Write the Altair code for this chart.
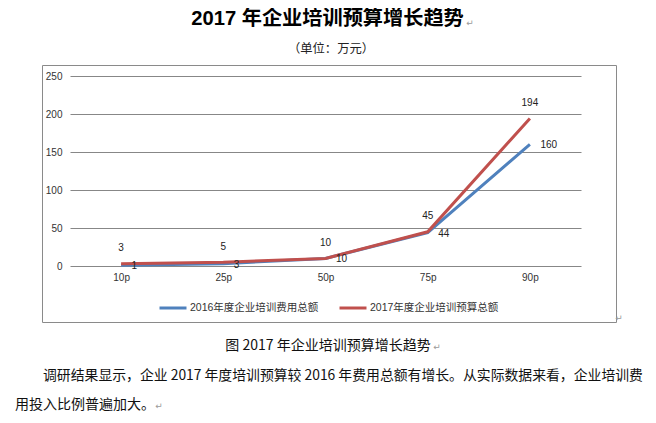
import altair as alt
import pandas as pd

categories = ["10p", "25p", "50p", "75p", "90p"]
values_2016 = [1, 3, 10, 44, 160]
values_2017 = [3, 5, 10, 45, 194]
series_names = ["2016年度企业培训费用总额", "2017年度企业培训预算总额"]
series_colors = ["#4F81BD", "#C0504D"]
y_ticks = [0, 50, 100, 150, 200, 250]

title_text = "2017 年企业培训预算增长趋势"
unit_text = "（单位：万元）"
caption_text = "图 2017 年企业培训预算增长趋势"
para_line1 = "调研结果显示，企业 2017 年度培训预算较 2016 年费用总额有增长。从实际数据来看，企业培训费"
para_line2 = "用投入比例普遍加大。"
mark_text = "↵"

FONT = "Liberation Sans, Noto Sans CJK SC"
CJK = "Noto Sans CJK SC, Liberation Sans"

df = pd.DataFrame({
    "cat": categories * 2,
    "value": values_2016 + values_2017,
    "series": [series_names[0]] * len(categories) + [series_names[1]] * len(categories),
})

W, H = 511, 190

x_enc = alt.X(
    "cat:N", sort=categories,
    scale=alt.Scale(type="point", padding=0.5),
    axis=alt.Axis(title=None, labelAngle=0, domain=False, ticks=False, grid=False,
                  labelPadding=6, labelFontSize=10, labelColor="#333333", labelFont=FONT),
)
y_enc = alt.Y(
    "value:Q",
    scale=alt.Scale(domain=[0, 250], nice=False),
    axis=alt.Axis(title=None, values=y_ticks, domain=False, ticks=False, grid=True,
                  gridColor="#878787", gridWidth=1, labelPadding=8, labelFontSize=10,
                  labelColor="#333333", labelFont=FONT),
)
color_enc = alt.Color(
    "series:N",
    scale=alt.Scale(domain=series_names, range=series_colors),
    legend=alt.Legend(title=None, orient="none", legendX=88, legendY=217,
                      direction="horizontal", symbolType="stroke", symbolStrokeWidth=3,
                      symbolSize=729, labelFontSize=10.5, labelFont=FONT,
                      labelColor="#333333", columnPadding=14, labelOffset=2,
                      labelLimit=400),
)

base = alt.Chart(df)

box = alt.Chart(pd.DataFrame({"k": [0]})).mark_rect(
    fillOpacity=0, stroke="#8a8a8a", strokeWidth=1
).encode(x=alt.value(-27.5), x2=alt.value(546.5), y=alt.value(-10.5), y2=alt.value(246.5))

line16 = base.transform_filter(alt.datum.series == series_names[0]).mark_line(
    strokeWidth=3).encode(x=x_enc, y=y_enc, color=color_enc)
line17 = base.transform_filter(alt.datum.series == series_names[1]).mark_line(
    strokeWidth=3).encode(x=x_enc, y=y_enc, color=color_enc)

lab16 = base.transform_filter(alt.datum.series == series_names[0]).mark_text(
    align="left", baseline="middle", dx=10.5, dy=1, fontSize=10, font=FONT, color="#222222"
).encode(x=x_enc, y=y_enc, text="value:Q")
lab17 = base.transform_filter(alt.datum.series == series_names[1]).mark_text(
    align="center", baseline="middle", dy=-15.5, fontSize=10, font=FONT, color="#222222"
).encode(x=x_enc, y=y_enc, text="value:Q")


def txt(s, x, y, size, align="center", weight="normal", font=CJK, color="#111111"):
    return alt.Chart(pd.DataFrame({"t": [s]})).mark_text(
        align=align, baseline="middle", fontSize=size, fontWeight=weight,
        font=font, color=color
    ).encode(text="t:N", x=alt.value(x), y=alt.value(y))


texts = [
    txt(title_text, 257.5, -57, 20.2, weight="bold", font=FONT, color="#000000"),
    txt(mark_text, 400, -53, 9, font="DejaVu Sans", color="#9a9a9a"),
    txt(unit_text, 261, -27, 12.3, color="#222222"),
    txt(caption_text, 258, 270, 14),
    txt(mark_text, 367, 271, 9, font="DejaVu Sans", color="#9a9a9a"),
    txt(para_line1, -27, 300, 13.85, align="left"),
    txt(para_line2, -55, 329, 14, align="left"),
    txt(mark_text, 89, 330, 9, font="DejaVu Sans", color="#9a9a9a"),
    txt(mark_text, 549, 242, 9, font="DejaVu Sans", color="#9a9a9a"),
]

chart = alt.layer(box, line16, line17, lab16, lab17, *texts).properties(
    width=W, height=H,
    autosize=alt.AutoSizeParams(type="none"),
    padding={"left": 62, "top": 68, "right": 64, "bottom": 148},
    background="white",
).configure_view(stroke=None)

chart.save("out.html", embed_options={"renderer": "svg", "actions": False})
